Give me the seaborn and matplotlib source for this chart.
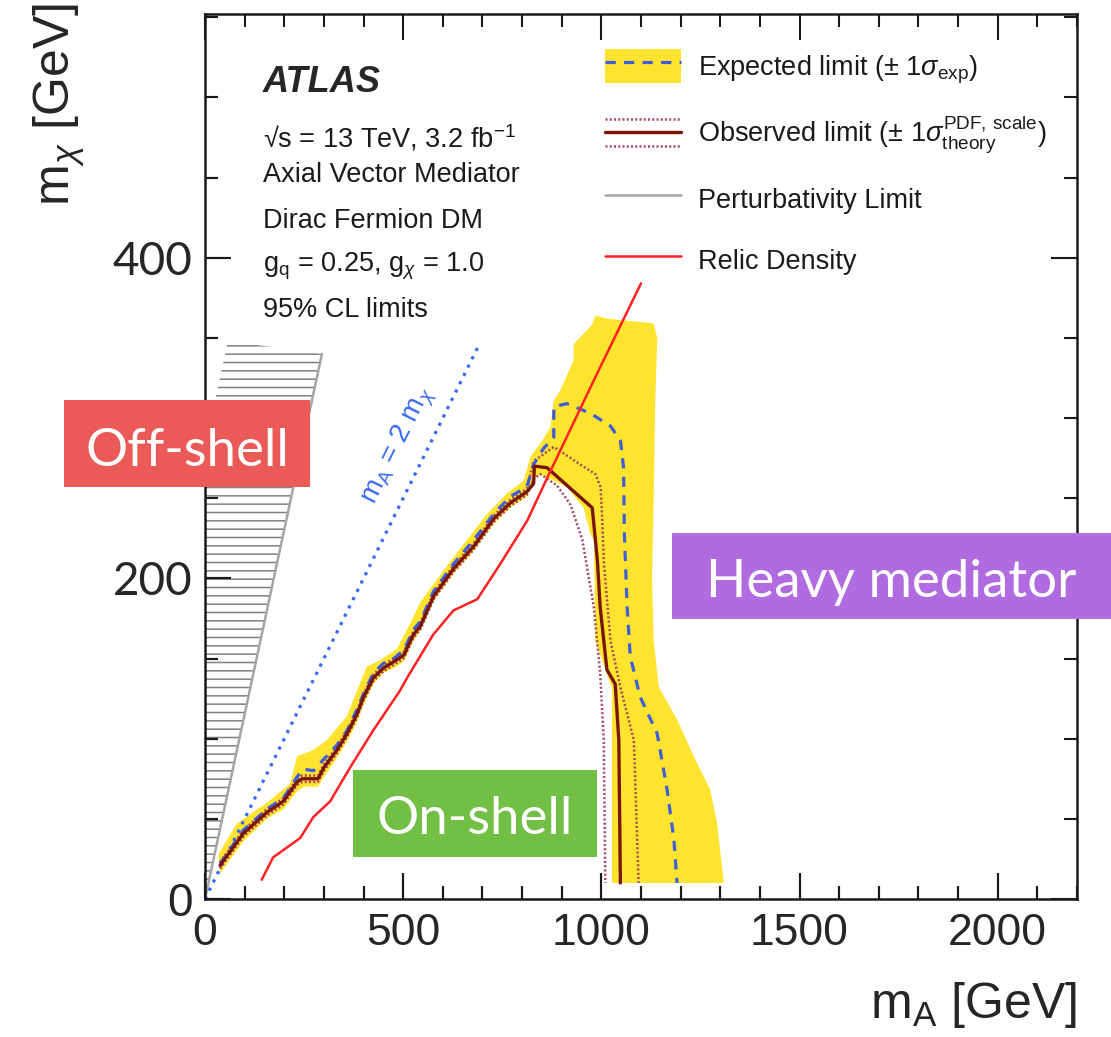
import numpy as np
import pandas as pd
import matplotlib
matplotlib.use("Agg")
import matplotlib.pyplot as plt
import seaborn as sns
from matplotlib.lines import Line2D
from matplotlib.patches import Patch, Rectangle
from matplotlib.legend_handler import HandlerBase, HandlerTuple
from matplotlib.ticker import MultipleLocator

# ---------------- data (GeV) ----------------
exp_mA = [38, 97, 156, 198, 232, 248, 274, 299, 333, 358, 383, 400, 425, 450, 476, 501, 526, 543,
          577, 627, 678, 728, 770, 812, 829, 854, 880, 880, 913, 972, 1023, 1048, 1056, 1058,
          1065, 1073, 1098, 1141, 1166, 1183, 1191]
exp_mchi = [22, 43, 56, 63, 76, 81, 80, 87, 96, 105, 118, 128, 141, 147, 150, 155, 168, 173,
            192, 209, 224, 240, 251, 257, 271, 281, 288, 307, 309, 303, 295, 286, 269, 228,
            182, 151, 126, 103, 68, 37, 10]

obs_mA = [38, 97, 156, 198, 232, 245, 285, 300, 333, 358, 383, 400, 425, 450, 476, 501, 526, 543,
          577, 627, 678, 728, 770, 812, 829, 831, 863, 977, 990, 997, 1014, 1035, 1044, 1048]
obs_mchi = [21, 41, 54, 61, 73, 75, 75, 82, 93, 103, 115, 126, 138, 144, 148, 152, 165, 170,
            189, 206, 220, 237, 247, 254, 259, 270, 269, 244, 211, 182, 143, 134, 99, 10]

obs_up_mA = [38, 97, 156, 198, 232, 245, 285, 300, 333, 358, 383, 400, 425, 450, 476, 501, 526, 543,
             577, 627, 678, 728, 770, 812, 829, 880, 947, 985, 998, 1002, 1006, 1023, 1048, 1082, 1094]
obs_up_mchi = [23, 43, 56, 63, 75, 77, 77, 84, 95, 105, 117, 128, 140, 146, 150, 154, 167, 172,
               191, 208, 222, 239, 249, 256, 273, 282, 271, 265, 257, 238, 211, 161, 132, 99, 10]

obs_dn_mA = [38, 97, 156, 198, 232, 245, 285, 300, 333, 358, 383, 400, 425, 450, 476, 501, 526, 543,
             577, 627, 678, 728, 770, 812, 829, 846, 888, 922, 952, 981, 997, 1006, 1010]
obs_dn_mchi = [19, 39, 52, 59, 71, 73, 73, 80, 91, 101, 113, 124, 136, 142, 146, 150, 163, 168,
               187, 204, 218, 235, 245, 252, 262, 265, 258, 246, 224, 182, 141, 99, 10]

band_mA = [34, 80, 156, 215, 232, 274, 307, 358, 408, 442, 484, 518, 543, 602, 661, 711, 762, 804,
           821, 846, 871, 880, 896, 930, 930, 976, 985, 1014, 1132, 1141, 1136, 1132, 1128, 1132,
           1145, 1191, 1233, 1275, 1292, 1309, 1027, 1027, 1023, 985, 981, 972, 955, 913, 846, 829,
           812, 770, 728, 678, 627, 577, 543, 526, 501, 476, 450, 425, 400, 383, 358, 333, 300,
           285, 250, 232, 198, 156, 97, 38]
band_mchi = [28, 47, 60, 72, 89, 93, 99, 114, 145, 149, 156, 172, 185, 205, 224, 240, 253, 261,
             276, 284, 294, 311, 317, 336, 346, 358, 364, 362, 359, 350, 311, 250, 200, 161,
             132, 112, 89, 68, 47, 10, 10, 132, 134, 161, 224, 228, 244, 257, 265, 262,
             251, 244, 234, 217, 203, 186, 167, 161, 148, 144, 141, 134, 121, 110, 98, 88, 76,
             70, 70, 67, 56, 50, 36, 16]

relic_mA = [143, 172, 240, 273, 316, 366, 424, 492, 510, 576, 627, 687, 745, 813, 864, 980, 1100]
relic_mchi = [12, 26, 38, 51, 61, 82, 105, 130, 138, 165, 180, 187, 209, 236, 263, 323, 384]

pert_mA = [0, 295]
pert_mchi = [0, 340]
pert_region_mA = [0, 295, 58, 0]
pert_region_mchi = [0, 340, 348, 282]

diag_mA = [0, 690]
diag_mchi = [0, 345]

x_ticks = [0, 500, 1000, 1500, 2000]
x_ticklabels = ["0", "500", "1000", "1500", "2000"]
x_minor_step = 100
y_ticks = [0, 200, 400]
y_ticklabels = ["0", "200", "400"]
y_minor_step = 50

info_lines = ["\u221As = 13 TeV, 3.2 fb$^{-1}$",
              "Axial Vector Mediator",
              "Dirac Fermion DM",
              r"g$_{\mathrm{q}}$ = 0.25, g$_{\chi}$ = 1.0",
              "95% CL limits"]
legend_labels = [r"Expected limit ($\pm$ 1$\sigma_{\mathrm{exp}}$)",
                 r"Observed limit ($\pm$ 1$\sigma^{\mathrm{PDF,\,scale}}_{\mathrm{theory}}$)",
                 "Perturbativity Limit",
                 "Relic Density"]
region_labels = ["Off-shell", "On-shell", "Heavy mediator"]

# ---------------- style ----------------
sns.set_theme(style="ticks")
plt.rcParams.update({
    "font.family": ["Liberation Sans", "DejaVu Sans"],
    "mathtext.fontset": "custom",
    "mathtext.rm": "Liberation Sans",
    "mathtext.it": "Liberation Sans:italic",
    "mathtext.bf": "Liberation Sans:bold",
    "mathtext.sf": "Liberation Sans",
    "hatch.color": "#808080",
    "hatch.linewidth": 1.1,
    "axes.edgecolor": "#1a1a1a",
    "axes.linewidth": 1.8,
    "axes.axisbelow": False,
})

YELLOW = "#FFE42F"
BLUE_EXP = "#3F5FD8"
BLUE_DIAG = "#3868F5"
OBS = "#7A1608"
THEO = "#A8485A"
RED = "#FF2222"
GRAY = "#A5A5A5"
TICKC = "#1a1a1a"

fig = plt.figure(figsize=(11.11, 10.37), dpi=100)
ax = fig.add_axes([0.18452, 0.13308, 0.78488, 0.85342])
ax.set_axisbelow(False)

# band
ax.fill(band_mA, band_mchi, facecolor=YELLOW, edgecolor="none", zorder=1)
# perturbativity hatched region
ax.fill(pert_region_mA, pert_region_mchi, facecolor="none", edgecolor="#808080",
        linewidth=0, hatch="--", zorder=1.5)

def line(xv, yv, **kw):
    df = pd.DataFrame({"mA": xv, "mchi": yv})
    sns.lineplot(data=df, x="mA", y="mchi", sort=False, estimator=None, ax=ax, **kw)

line(pert_mA, pert_mchi, color=GRAY, linewidth=1.8, zorder=2)
line(diag_mA, diag_mchi, color=BLUE_DIAG, linewidth=2.3, linestyle=(0, (1, 1.9)), zorder=2)
line(obs_dn_mA, obs_dn_mchi, color=THEO, linewidth=1.8, linestyle=(0, (0.8, 0.9)), zorder=3)
line(obs_up_mA, obs_up_mchi, color=THEO, linewidth=1.8, linestyle=(0, (0.8, 0.9)), zorder=3)
line(exp_mA, exp_mchi, color=BLUE_EXP, linewidth=2.3, linestyle=(0, (3.2, 2.6)), zorder=4)
line(obs_mA, obs_mchi, color=OBS, linewidth=2.4, zorder=5)
line(relic_mA, relic_mchi, color=RED, linewidth=1.8, zorder=6)

ax.text(488, 283, r"m$_{\mathrm{A}}$ = 2 m$_{\chi}$", color=BLUE_DIAG, fontsize=20,
        rotation=63.6, rotation_mode="anchor", ha="center", va="center", zorder=6)

# axes
XMAX, YMAX = 2200, 552
ax.set_xlim(0, XMAX)
ax.set_ylim(0, YMAX)
ax.set_xticks(x_ticks)
ax.set_xticklabels(x_ticklabels)
ax.set_yticks(y_ticks)
ax.set_yticklabels(y_ticklabels)
ax.xaxis.set_minor_locator(MultipleLocator(x_minor_step))
ax.yaxis.set_minor_locator(MultipleLocator(y_minor_step))
ax.xaxis.set_ticks_position("both")
ax.yaxis.set_ticks_position("both")
ax.tick_params(axis="x", which="major", labelsize=32, pad=10)
ax.tick_params(axis="y", which="major", labelsize=33, pad=9)
for lbl in ax.get_yticklabels():
    if lbl.get_text() != "0":
        lbl.set_fontfamily(["Lato", "DejaVu Sans"])
for s in ax.spines.values():
    s.set_visible(True)
    s.set_zorder(8)

ax.set_xlabel(r"m$_{\mathrm{A}}$ [GeV]", fontsize=36, loc="right")
ax.xaxis.set_label_coords(1.0, -0.092)
ax.set_ylabel(r"m$_{\chi}$ [GeV]", fontsize=36, loc="top")
ax.yaxis.set_label_coords(-0.135, 1.012)

# ATLAS block
ax.text(0.0665, 0.912, "ATLAS", transform=ax.transAxes, fontsize=26, fontweight="bold",
        fontstyle="italic", va="baseline", ha="left")
for yy, t in zip([0.8497, 0.8102, 0.7582, 0.7085, 0.6576], info_lines):
    ax.text(0.0665, yy, t, transform=ax.transAxes, fontsize=19.5, va="baseline", ha="left",
            color="#1a1a1a")

# legend
class ObsHandle:
    pass

class HandlerObs(HandlerBase):
    def create_artists(self, legend, orig_handle, xdescent, ydescent, width, height, fontsize, trans):
        x0, x1 = -xdescent, -xdescent + width
        arts = []
        for frac, col, lw, ls in [(0.5, OBS, 2.4, "-"), (0.9, THEO, 1.8, (0, (0.8, 0.9))),
                                  (0.1, THEO, 1.8, (0, (0.8, 0.9)))]:
            yv = -ydescent + frac * height
            l = Line2D([x0, x1], [yv, yv], color=col, lw=lw, linestyle=ls)
            l.set_transform(trans)
            arts.append(l)
        return arts

h_exp = (Patch(facecolor=YELLOW, edgecolor="none"),
         Line2D([], [], color=BLUE_EXP, lw=2.3, linestyle=(0, (3.2, 2.6))))
h_obs = ObsHandle()
h_pert = Line2D([], [], color=GRAY, lw=1.8)
h_relic = Line2D([], [], color=RED, lw=1.8)
leg = ax.legend([h_exp, h_obs, h_pert, h_relic], legend_labels,
                handler_map={tuple: HandlerTuple(ndivide=1), ObsHandle: HandlerObs()},
                loc="upper left", bbox_to_anchor=(0.4587, 0.9600), borderaxespad=0,
                borderpad=0, frameon=False, fontsize=19.5, handlelength=2.8,
                handleheight=1.55, handletextpad=0.63, labelspacing=1.0)
for t in leg.get_texts():
    t.set_color("#1a1a1a")

# region boxes
W, H = 1111.0, 1037.0
boxes = [(64, 400, 310, 487, "#EA5B57", 466),
         (353, 770, 597, 857, "#71BF44", 834.5),
         (672, 533, 1111, 619, "#B16BE0", 597)]
for (x0, y0, x1, y1, col, base), lab in zip(boxes, region_labels):
    fig.add_artist(Rectangle((x0 / W, 1 - y1 / H), (x1 - x0) / W, (y1 - y0) / H,
                             transform=fig.transFigure, facecolor=col, edgecolor="none", zorder=10))
    fig.text((x0 + x1) / 2 / W, 1 - base / H, lab, ha="center", va="baseline", color="white",
             fontsize=38, fontfamily=["Lato", "DejaVu Sans"], fontweight="normal", zorder=11)

# tick styling
MAJ_PT, MIN_PT, TW = 18.5, 9.2, 1.5
ax.tick_params(axis="both", which="both", direction="in", bottom=True, top=True, left=True,
               right=True, color=TICKC, width=TW)
ax.tick_params(axis="both", which="major", length=MAJ_PT)
ax.tick_params(axis="both", which="minor", length=MIN_PT)

# reinforce inward ticks on the bottom and left axes (same positions as the locators)
bbox = ax.get_window_extent()
px_per_pt = fig.dpi / 72.0
x_major = np.array(x_ticks, dtype=float)
x_minor = np.array([v for v in np.arange(0, XMAX + 1, x_minor_step) if v not in x_ticks], dtype=float)
y_major = np.array(y_ticks, dtype=float)
y_minor = np.array([v for v in np.arange(0, YMAX + 1, y_minor_step) if v not in y_ticks], dtype=float)
for xs, lpt in [(x_major, MAJ_PT), (x_minor, MIN_PT)]:
    frac = lpt * px_per_pt / bbox.height
    ax.vlines(xs, 0, frac, transform=ax.get_xaxis_transform(), colors=TICKC,
              linewidth=TW, clip_on=False, zorder=7)
for ys, lpt in [(y_major, MAJ_PT), (y_minor, MIN_PT)]:
    frac = lpt * px_per_pt / bbox.width
    ax.hlines(ys, 0, frac, transform=ax.get_yaxis_transform(), colors=TICKC,
              linewidth=TW, clip_on=False, zorder=7)

fig.savefig("out.png", dpi=100)
